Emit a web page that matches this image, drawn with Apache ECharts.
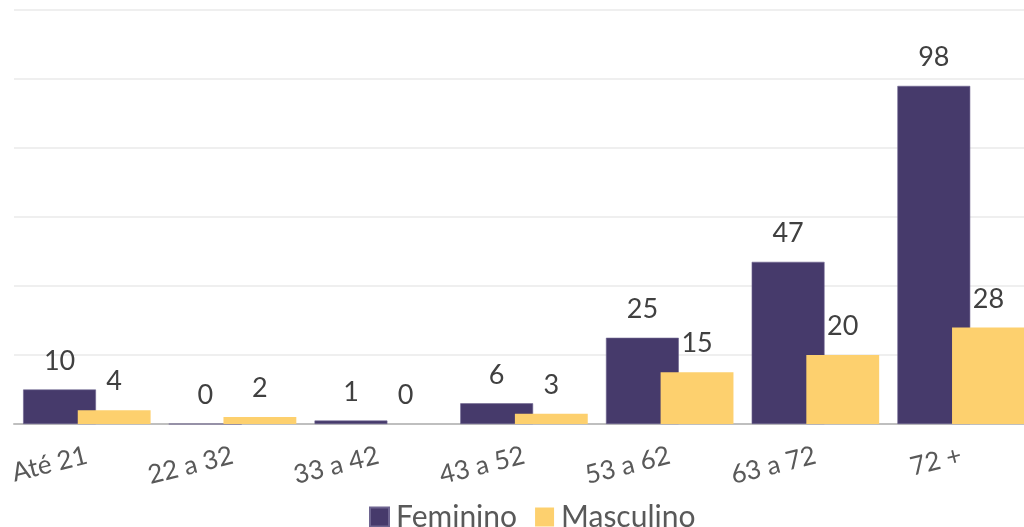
<!DOCTYPE html>
<html><head><meta charset="utf-8">
<script src="https://cdn.jsdelivr.net/npm/echarts@6/dist/echarts.min.js"></script>
<style>html,body{margin:0;padding:0;background:#fff}#c{width:1024px;height:527px}</style>
</head><body><div id="c"></div>
<script>
const categories = ['Até 21','22 a 32','33 a 42','43 a 52','53 a 62','63 a 72','72 +'];
const feminino = [10,0,1,6,25,47,98];
const masculino = [4,2,0,3,15,20,28];
const seriesNames = ['Feminino','Masculino'];
const font = 'Lato, "Open Sans", sans-serif';
const chart = echarts.init(document.getElementById('c'));
chart.setOption({
  animation:false,
  grid:{left:14,width:1020,top:10,bottom:103,containLabel:false,outerBoundsMode:'none'},
  legend:{bottom:-10,left:364,itemWidth:19,itemHeight:19,itemGap:18,icon:'rect',
    textStyle:{fontFamily:font,fontSize:30,color:'#595959',padding:[0,0,0,2]},data:seriesNames},
  xAxis:{type:'category',data:categories,
    axisLine:{lineStyle:{color:'#bfbfbf',width:2}},axisTick:{show:false},
    axisLabel:{rotate:14,margin:31,fontFamily:font,fontSize:26,color:'#595959'}},
  yAxis:{type:'value',min:0,max:120,interval:20,axisLabel:{show:false},
    axisLine:{show:false},axisTick:{show:false},
    splitLine:{lineStyle:{color:'#efefef',width:2}}},
  series:[
    {name:seriesNames[0],type:'bar',data:feminino,barWidth:'50%',barGap:'-25%',barCategoryGap:'12%',
     itemStyle:{color:'#463a6b',borderColor:'#6e6590',borderWidth:0.6},
     label:{show:true,position:'top',distance:15,fontFamily:font,fontSize:27,color:'#404040'}},
    {name:seriesNames[1],type:'bar',data:masculino,barWidth:'50%',barGap:'-25%',
     itemStyle:{color:'#fdd06e'},
     label:{show:true,position:'top',distance:15,fontFamily:font,fontSize:27,color:'#404040'}}
  ]
});
</script></body></html>
